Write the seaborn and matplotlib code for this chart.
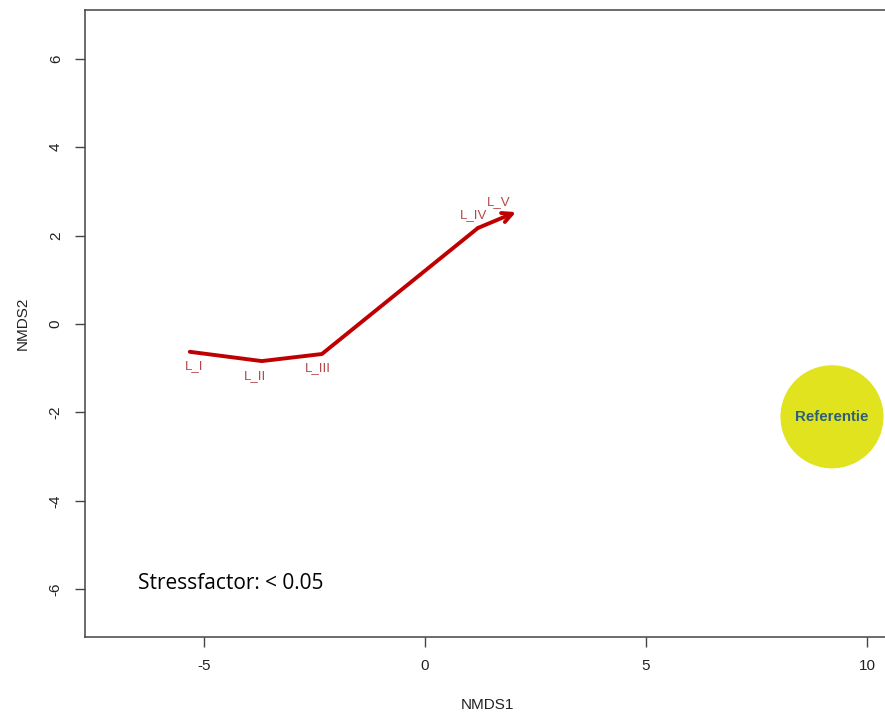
import matplotlib
matplotlib.use("Agg")
import matplotlib.pyplot as plt
import seaborn as sns
import pandas as pd
from matplotlib.patches import Circle

# Ordination scores along the trajectory
sites = ["L_I", "L_II", "L_III", "L_IV", "L_V"]
nmds1 = [-5.32, -3.69, -2.33, 1.20, 2.06]
nmds2 = [-0.63, -0.84, -0.68, 2.17, 2.53]

# Reference site
ref_label = "Referentie"
ref_x, ref_y = 9.21, -2.10

stress_text = "Stressfactor: < 0.05"
x_ticks = [-5, 0, 5, 10]
y_ticks = [-6, -4, -2, 0, 2, 4, 6]

df = pd.DataFrame({"site": sites, "NMDS1": nmds1, "NMDS2": nmds2})

sns.set_style("white")
plt.rcParams["font.family"] = ["Liberation Sans", "DejaVu Sans"]

fig = plt.figure(figsize=(8.85, 7.15), dpi=100)
ax = fig.add_axes([85 / 885, 78 / 715, 804 / 885, 627 / 715])

line_col = "#C00000"
sns.lineplot(data=df.iloc[:-1], x="NMDS1", y="NMDS2", sort=False, ax=ax,
             color=line_col, linewidth=2.8)
ax.annotate("", xy=(nmds1[-1], nmds2[-1]), xytext=(nmds1[-2], nmds2[-2]),
            arrowprops=dict(arrowstyle="->,head_length=0.7,head_width=0.35",
                            color=line_col, lw=2.8, shrinkA=0, shrinkB=0))

# Site labels
label_col = "#B5474B"
offsets = {"L_I": (0.10, -0.33), "L_II": (-0.15, -0.35), "L_III": (-0.10, -0.32),
           "L_IV": (-0.10, 0.30), "L_V": (-0.40, 0.22)}
for s, x, y in zip(sites, nmds1, nmds2):
    dx, dy = offsets[s]
    ax.text(x + dx, y + dy, s, color=label_col, fontsize=9.5,
            ha="center", va="center")

# Reference site
ax.plot([ref_x - 1.1], [ref_y - 0.15], marker="s", ms=2, color="#E8604C")
ax.add_patch(Circle((ref_x, ref_y), 1.15, color="#E1E31F", zorder=3))
ax.text(ref_x, ref_y, ref_label, color="#2D5F7C", fontsize=10.8,
        fontweight="bold", ha="center", va="center", zorder=4)

ax.text(-6.5, -5.88, stress_text, fontsize=15, family=["Open Sans", "DejaVu Sans"],
        ha="left", va="center", color="black")

ax.set_xlim(-7.69, 10.5)
ax.set_ylim(-7.08, 7.1)
ax.set_xticks(x_ticks)
ax.set_yticks(y_ticks)
ax.set_xticklabels([str(v) for v in x_ticks])
ax.set_yticklabels([str(v) for v in y_ticks], rotation=90, va="center")
ax.tick_params(axis="both", direction="out", length=7, width=1, color="#444444",
               labelsize=11, labelcolor="#222222", bottom=True, left=True)
ax.tick_params(axis="x", pad=9)
ax.tick_params(axis="y", pad=9)
for sp in ax.spines.values():
    sp.set_color("#444444")
    sp.set_linewidth(1.1)
ax.set_xlabel("NMDS1", fontsize=11, color="#222222", labelpad=18)
ax.set_ylabel("NMDS2", fontsize=11, color="#222222", labelpad=14)
ax.grid(False)

fig.savefig("out.png", dpi=100)
